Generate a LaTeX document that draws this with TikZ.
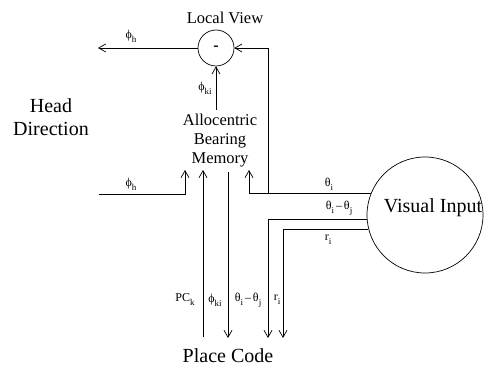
\documentclass[tikz,border=0pt]{standalone}
\usepackage{fontspec}
\setmainfont{Liberation Serif}
\usetikzlibrary{arrows.meta}
\newcommand{\gsub}[2]{#1\raisebox{-4pt}{\fontsize{9}{9}\selectfont #2}}
\begin{document}
\begin{tikzpicture}[x=1pt,y=-1pt, line width=0.7pt,
  arr/.style={-{Straight Barb[length=7pt,width=8pt]}},
  big/.style={font=\fontsize{20}{23}\selectfont, inner sep=0pt},
  mid/.style={font=\fontsize{16.5}{19}\selectfont, inner sep=0pt},
  lab/.style={font=\fontsize{12}{12}\selectfont, inner sep=0pt},
  ring/.style={draw, circle, inner sep=0pt}]
\useasboundingbox (0,0) rectangle (486,366);
% nodes
\node[mid] (lvt) at (225,18) {Local View};
\node[ring, minimum size=36pt, font=\fontsize{16}{16}\selectfont\bfseries] (lv) at (216,48) {-};
\node[mid, align=center] (abm) at (220,141) {Allocentric\\Bearing\\Memory};
\node[big, align=center] (hd) at (51,117) {Head\\Direction};
\node[ring, minimum size=116pt] (vi) at (425,215) {};
\node[big] (vit) at (433,208) {Visual Input};
\node[big] (pc) at (228,356) {Place Code};
% coordinates
\coordinate (lvout) at (98,48);
\coordinate (hdin) at (99,194);
\coordinate (abmA) at (185,170);
\coordinate (abmB) at (203,170);
\coordinate (abmC) at (228,172);
\coordinate (abmD) at (249,170);
\coordinate (abmTop) at (216,110);
\coordinate (br) at (268,194);
\coordinate (pcA) at (203,337);
\coordinate (pcB) at (228,338);
\coordinate (pcC) at (268,338);
\coordinate (pcD) at (283,338);
% connectors
\draw[arr] (lv.west) -- (lvout);
\draw[arr] (abmTop) -- (lv.south);
\draw[arr] (hdin) -| (abmA);
\draw[arr] (pcA) -- (abmB);
\draw[arr] (abmC) -- (pcB);
\draw[arr] (vi.158.8) -- (vi.158.8 -| abmD) -- (abmD);
\draw[arr] (br) |- (lv.east);
\draw[arr] (vi.184) -- (vi.184 -| pcC) -- (pcC);
\draw[arr] (vi.194) -- (vi.194 -| pcD) -- (pcD);
% labels
\node[lab] (l1) at (131,36) {\gsub{ϕ}{h}};
\node[lab] (l2) at (205,88) {\gsub{ϕ}{ki}};
\node[lab] (l3) at (131,184) {\gsub{ϕ}{h}};
\node[lab] (l4) at (329,184) {\gsub{θ}{i}};
\node[lab] (l5) at (339,208) {\gsub{θ}{i}\,–\,\gsub{θ}{j}};
\node[lab] (l6) at (328,240) {\gsub{r}{i}};
\node[lab] (l7) at (185,300) {\gsub{PC}{k}};
\node[lab] (l8) at (215,300) {\gsub{ϕ}{ki}};
\node[lab] (l9) at (248,300) {\gsub{θ}{i}\,–\,\gsub{θ}{j}};
\node[lab] (l10) at (277,300) {\gsub{r}{i}};
\end{tikzpicture}
\end{document}
